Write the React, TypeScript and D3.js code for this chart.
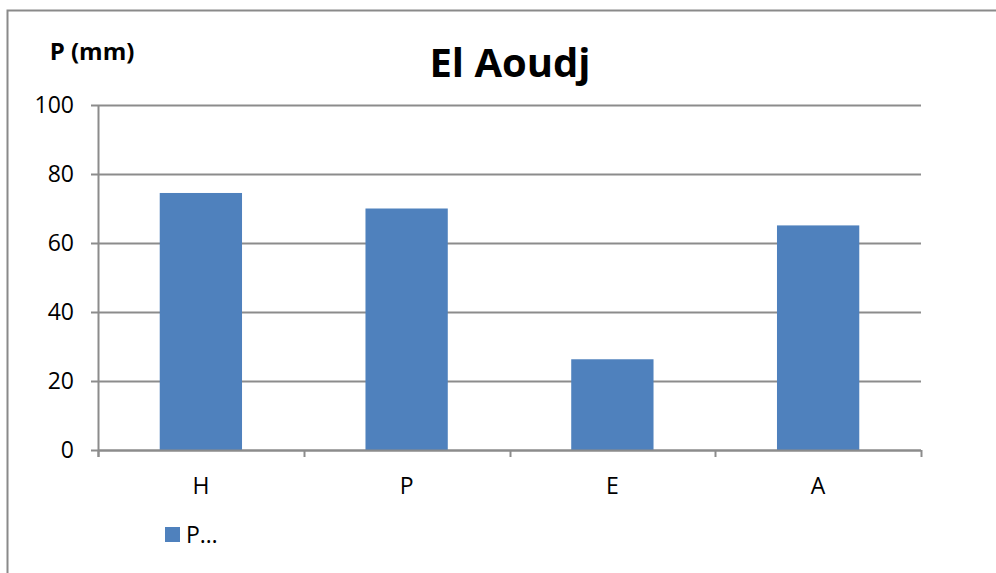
import React from "react";
import * as d3 from "d3";

const categories = ["H", "P", "E", "A"];
const values = [74.5, 70, 26.3, 65.1];
const yTicks = [0, 20, 40, 60, 80, 100];
const title = "El Aoudj";
const yLabel = "P (mm)";
const legendLabel = "P…";

const W = 996;
const H = 573;
const plot = { left: 98, right: 921, top: 105, bottom: 450 };
const FONT = "'Open Sans', 'DejaVu Sans', sans-serif";
const BAR = "#4F81BD";
const GRID = "#8c8c8c";

export default function App() {
  const x = d3
    .scaleBand<string>()
    .domain(categories)
    .range([plot.left, plot.right])
    .paddingInner(0.6)
    .paddingOuter(0.3);
  const band = d3.scaleBand<string>().domain(categories).range([plot.left, plot.right]);
  const y = d3.scaleLinear().domain([0, 100]).range([plot.bottom, plot.top]);
  const boundaries = [...categories.map((c) => band(c) as number), plot.right];

  return (
    <svg
      width={W}
      height={H}
      style={{ position: "absolute", left: 0, top: 0, background: "#fff" }}
    >
      <rect x={0} y={0} width={W} height={H} fill="#fff" />
      <rect x={7.5} y={10.5} width={W + 20} height={H + 20} fill="none" stroke="#8a8a8a" strokeWidth={2} />
      {yTicks.map((t) => (
        <line
          key={"g" + t}
          x1={plot.left - 7}
          x2={plot.right}
          y1={Math.round(y(t)) + 0.5}
          y2={Math.round(y(t)) + 0.5}
          stroke={GRID}
          strokeWidth={2}
        />
      ))}
      <line x1={plot.left + 0.5} x2={plot.left + 0.5} y1={plot.top} y2={plot.bottom + 7} stroke={GRID} strokeWidth={2} />
      {boundaries.map((b, i) => (
        <line key={"xt" + i} x1={Math.round(b) + 0.5} x2={Math.round(b) + 0.5} y1={plot.bottom} y2={plot.bottom + 7} stroke={GRID} strokeWidth={2} />
      ))}
      {categories.map((c, i) => (
        <rect
          key={c}
          x={x(c)}
          y={y(values[i])}
          width={x.bandwidth()}
          height={plot.bottom - y(values[i])}
          fill={BAR}
        />
      ))}
      <line x1={plot.left} x2={plot.right} y1={plot.bottom + 0.5} y2={plot.bottom + 0.5} stroke={GRID} strokeWidth={2} />
      {yTicks.map((t) => (
        <text key={"yl" + t} x={74} y={y(t)} dy="0.35em" textAnchor="end" fontFamily={FONT} fontSize={23} fill="#000">
          {t}
        </text>
      ))}
      {categories.map((c) => (
        <text
          key={"xl" + c}
          x={(band(c) as number) + band.bandwidth() / 2}
          y={486}
          dy="0.35em"
          textAnchor="middle"
          fontFamily={FONT}
          fontSize={23}
          fill="#000"
        >
          {c}
        </text>
      ))}
      <text x={510} y={63} dy="0.35em" textAnchor="middle" fontFamily={FONT} fontWeight="bold" fontSize={40} fill="#000">
        {title}
      </text>
      <text x={92} y={52} dy="0.35em" textAnchor="middle" fontFamily={FONT} fontWeight="bold" fontSize={24} fill="#000">
        {yLabel}
      </text>
      <rect x={165} y={527} width={15} height={15} fill={BAR} />
      <text x={186} y={535} dy="0.35em" fontFamily={FONT} fontSize={23} fill="#000">
        {legendLabel}
      </text>
    </svg>
  );
}
